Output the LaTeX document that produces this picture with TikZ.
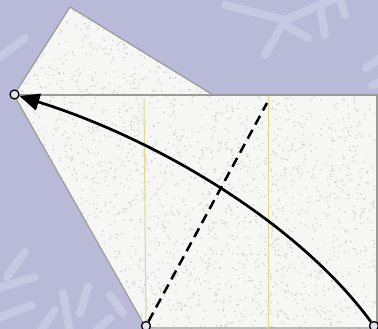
\documentclass[tikz,border=0pt]{standalone}
\usetikzlibrary{arrows.meta}
\definecolor{bg}{HTML}{B8BAD8}
\definecolor{flake}{HTML}{C7C9E2}
\definecolor{paper}{HTML}{F6F6F4}
\definecolor{speck}{HTML}{D2D2D0}
\definecolor{edge}{HTML}{9A9A96}
\definecolor{crease}{HTML}{E2D68E}
\begin{document}
\begin{tikzpicture}[x=1pt,y=-1pt,
  flakearm/.style={line width=8pt,line cap=round,draw=flake},
  paperedge/.style={draw=edge,line width=1.2pt},
  creaseline/.style={draw=crease,line width=1pt},
  pt/.style={circle,draw=black,line width=1.3pt,fill=bg!40!white,minimum size=9pt,inner sep=0pt},
  arcarrow/.style={draw=black,line width=2.7pt,-{Triangle[length=20pt,width=17pt]}},
  valley/.style={draw=black,line width=2.5pt,dash pattern=on 10pt off 6pt}]
\useasboundingbox (0,0) rectangle (378,329);
\fill[bg] (0,0) rectangle (378,329);
% snowflake decorations
\draw[flakearm] (225,5) -- (285,20) -- (265,55);
\draw[flakearm] (285,25) -- (308,38);
\draw[flakearm] (285,20) -- (320,5) -- (325,35);
\draw[flakearm] (320,5) -- (345,-5);
\draw[flakearm] (340,0) -- (345,15);
\draw[flakearm] (366,68) -- (380,58);
\draw[flakearm] (372,86) -- (380,82);
\draw[flakearm] (0,57) -- (25,38);
\draw[flakearm] (7,277) -- (25,252);
\draw[flakearm] (-2,288) -- (35,277);
\draw[flakearm] (-2,318) -- (32,305);
\draw[flakearm] (63,293) -- (70,332);
\draw[flakearm] (88,287) -- (80,313);
\draw[flakearm] (110,295) -- (123,313);
\draw[flakearm] (40,332) -- (55,310);
\draw[flakearm] (95,332) -- (110,318);
% paper
\begin{scope}
\clip (70,7) -- (213,95) -- (378,95) -- (378,329) -- (146,329) -- (14,95) -- cycle;
\fill[paper] (0,0) rectangle (378,329);
\pgfmathsetseed{7}
\foreach \i in {1,...,2600} {
  \fill[speck] ({14+364*rnd},{7+322*rnd}) circle (0.9pt);
}
\end{scope}
\draw[paperedge] (14,95) -- (70,7) -- (213,95);
\draw[paperedge] (14,95) -- (378,95);
\draw[paperedge] (14,95) -- (146,328) -- (378,328);
\draw[paperedge] (377,95) -- (377,329);
% creases
\draw[creaseline] (144,98) -- (146,329);
\draw[creaseline] (268,96) -- (268,329);
% points
\node[pt] (A) at (14.5,94.5) {};
\node[pt] (B) at (146,326) {};
\node[pt] (C) at (374,326) {};
\coordinate (T) at (267,103);
% valley fold line
\draw[valley] (B) -- (T);
% movement arrow
\draw[arcarrow] (C) .. controls (300,225) and (160,140) .. (A);
\end{tikzpicture}
\end{document}
